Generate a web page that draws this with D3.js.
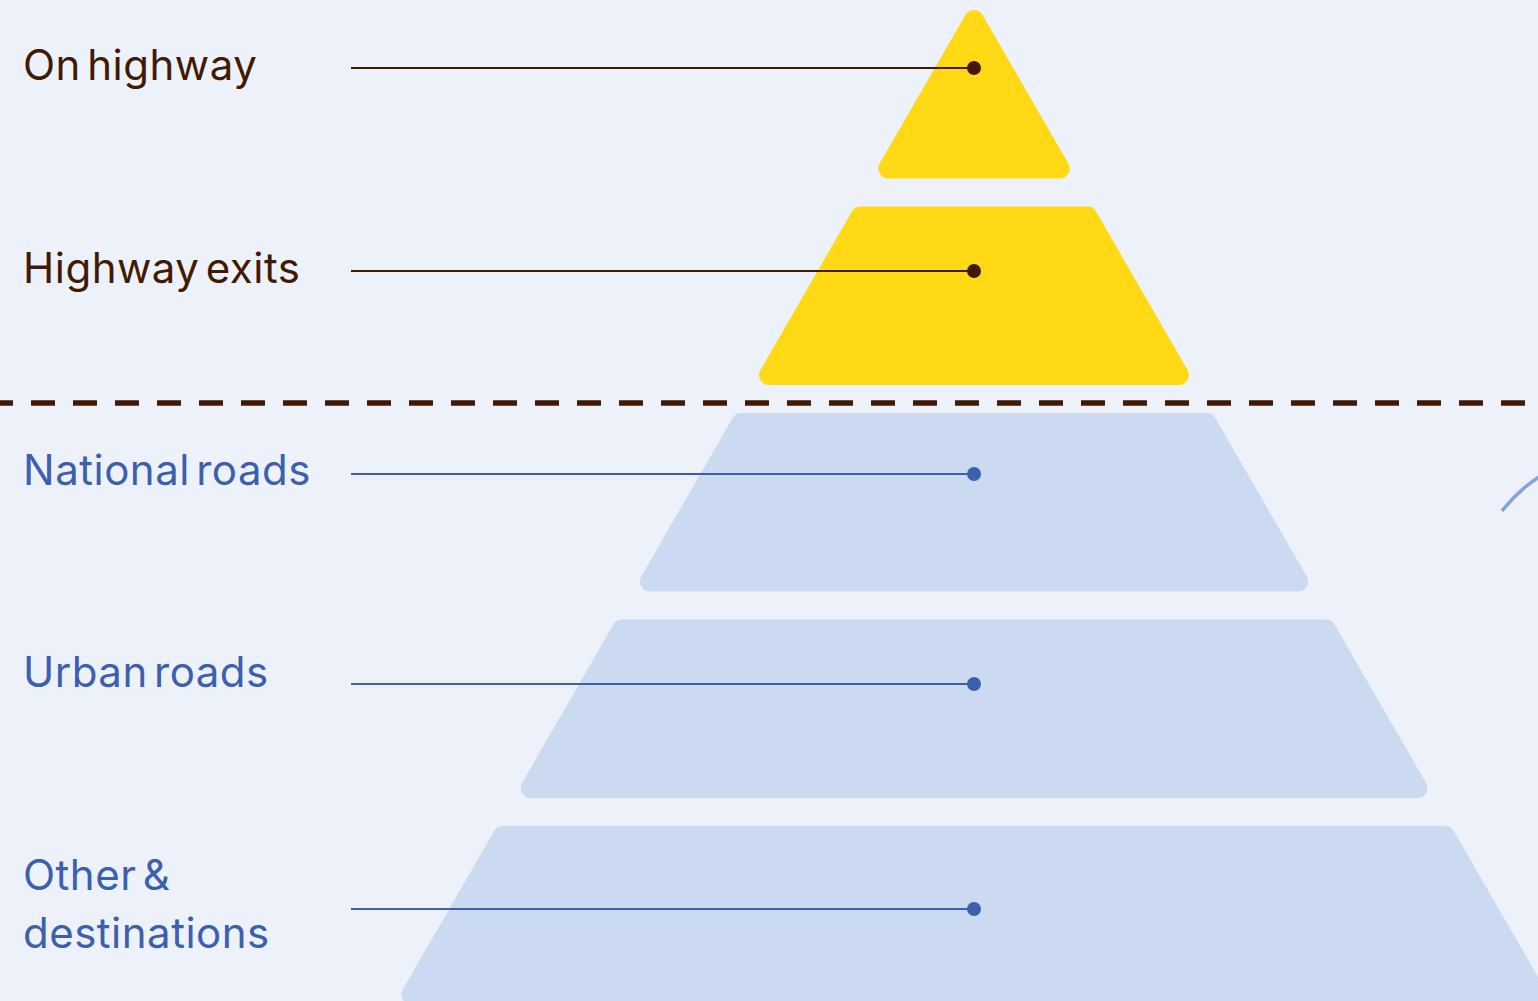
<!DOCTYPE html>
<html>
<head>
<meta charset="utf-8">
<script src="https://cdn.jsdelivr.net/npm/d3@7"></script>
<style>
  html, body { margin: 0; padding: 0; background: #edf2fa; overflow: hidden; }
  svg { display: block; }
  text { font-family: Inter, "Open Sans", sans-serif; }
</style>
</head>
<body>
<script>
// Layers of the pyramid, top to bottom
var layers = ["On highway", "Highway exits", "National roads", "Urban roads", "Other & destinations"];
var labelLines = [["On highway"], ["Highway exits"], ["National roads"], ["Urban roads"], ["Other &", "destinations"]];
var groups = ["highway", "highway", "other", "other", "other"];

var width = 1538, height = 1001;
var cx = 974;

// layout (pixels), kept apart from the data
var anchorY = [68, 271, 474, 684, 909];
var baselineY = [80, 283, 485, 687, 890];

var colors = {
  highway: { fill: "#ffd916", ink: "#421a03" },
  other:   { fill: "#cbdaf0", ink: "#3c5fae" }
};

var svg = d3.select("body").append("svg")
  .attr("width", width)
  .attr("height", height);

// vertical bands for each layer
var y = d3.scaleBand()
  .domain(layers)
  .range([0, 1004.5])
  .paddingInner(28 / 206.5)
  .paddingOuter(0);

// half width of the pyramid at a given depth (60 degree sides)
var half = d3.scaleLinear()
  .domain([0, 1004.5])
  .range([0, 1004.5 * Math.tan(Math.PI / 6)]);

// polygon with rounded corners
function roundPoly(pts, r) {
  var p = d3.path();
  var n = pts.length;
  var a = pts[n - 1], b = pts[0];
  p.moveTo((a[0] + b[0]) / 2, (a[1] + b[1]) / 2);
  for (var i = 0; i < n; i++) {
    var c = pts[i], d = pts[(i + 1) % n];
    p.arcTo(c[0], c[1], d[0], d[1], r);
  }
  p.closePath();
  return p.toString();
}

svg.selectAll("path.layer")
  .data(layers)
  .enter().append("path")
    .attr("class", "layer")
    .attr("fill", function(d, i) { return colors[groups[i]].fill; })
    .attr("d", function(d, i) {
      var t = y(d), b = y(d) + y.bandwidth();
      var ht = half(t), hb = half(b);
      var pts = ht < 1
        ? [[cx, t], [cx + hb, b], [cx - hb, b]]
        : [[cx - ht, t], [cx + ht, t], [cx + hb, b], [cx - hb, b]];
      return roundPoly(pts, 10);
    });

// divider between highway and the rest
var split = (y(layers[1]) + y.bandwidth() + y(layers[2])) / 2;
svg.append("line")
  .attr("x1", 0).attr("x2", width)
  .attr("y1", split + 4).attr("y2", split + 4)
  .attr("stroke", "#421a03")
  .attr("stroke-width", 5.5)
  .attr("stroke-dasharray", "24 18")
  .attr("stroke-dashoffset", 11);

// leader lines and dots
var leaders = svg.selectAll("g.leader")
  .data(layers)
  .enter().append("g")
    .attr("class", "leader");

leaders.append("line")
  .attr("x1", 351).attr("x2", cx)
  .attr("y1", function(d, i) { return anchorY[i]; })
  .attr("y2", function(d, i) { return anchorY[i]; })
  .attr("stroke", function(d, i) { return colors[groups[i]].ink; })
  .attr("stroke-width", 2);

leaders.append("circle")
  .attr("cx", cx)
  .attr("cy", function(d, i) { return anchorY[i]; })
  .attr("r", 7)
  .attr("fill", function(d, i) { return colors[groups[i]].ink; });

// labels
var labels = svg.selectAll("text.label")
  .data(layers)
  .enter().append("text")
    .attr("class", "label")
    .attr("x", 23)
    .attr("y", function(d, i) { return baselineY[i]; })
    .attr("font-size", 42)
    .attr("letter-spacing", 0.5)
    .attr("word-spacing", -6)
    .attr("fill", function(d, i) { return colors[groups[i]].ink; });

labels.selectAll("tspan")
  .data(function(d, i) { return labelLines[i]; })
  .enter().append("tspan")
    .attr("x", 23)
    .attr("dy", function(d, j) { return j === 0 ? 0 : 58; })
    .text(function(d) { return d; });

// stray arc entering from the right edge
svg.append("path")
  .attr("d", "M1502,511 Q1518,490 1542,475")
  .attr("fill", "none")
  .attr("stroke", "#86a3d8")
  .attr("stroke-width", 3.5);
</script>
</body>
</html>
